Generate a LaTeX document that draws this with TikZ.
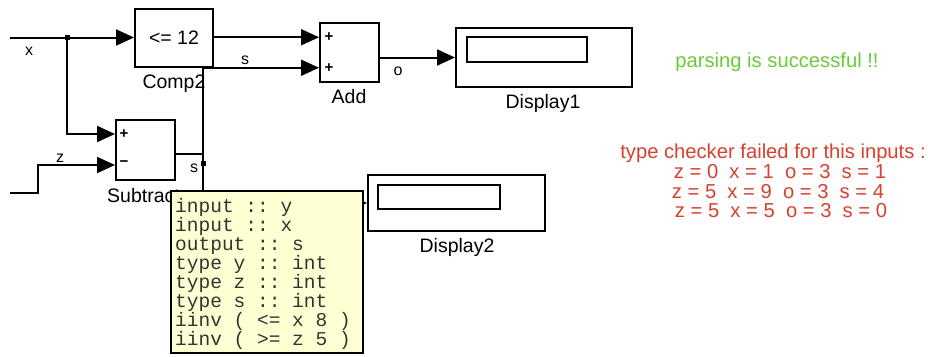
\documentclass[tikz,border=0pt]{standalone}
\usepackage{fontspec}
\setmainfont{Liberation Sans}
\setmonofont{Liberation Mono}
\usetikzlibrary{arrows.meta,calc}
\definecolor{okgreen}{HTML}{6BCB3B}
\definecolor{errred}{HTML}{D7412E}
\definecolor{tipfill}{HTML}{FFFFD4}
\definecolor{tiptext}{HTML}{333333}
\begin{document}
\begin{tikzpicture}[x=1pt,y=-1pt,
  blk/.style={draw, line width=2pt, inner sep=0pt, fill=white},
  lbl/.style={font=\fontsize{19.5}{20}\selectfont, inner sep=0pt, anchor=base},
  msg/.style={font=\fontsize{20.2}{20}\selectfont, inner sep=0pt, anchor=base},
  sig/.style={font=\fontsize{16}{16}\selectfont, inner sep=0pt, anchor=base},
  port/.style={font=\bfseries\fontsize{15}{15}\selectfont, inner sep=0pt},
  wire/.style={draw, line width=2pt},
  arr/.style={draw, line width=2pt, -{Triangle[length=18pt,width=16pt]}},
  jdot/.style={fill, rectangle, minimum size=5pt, inner sep=0pt}]
\fill[white] (0,0) rectangle (928,356);
\path[use as bounding box] (0,0) rectangle (928,356);

% blocks
\node[blk, minimum width=78pt, minimum height=58pt, font=\fontsize{19.5}{20}\selectfont] (comp) at (174,37.5) {<= 12};
\node[blk, minimum width=59pt, minimum height=60pt] (sub) at (145.5,149.5) {};
\node[blk, minimum width=59pt, minimum height=59pt] (add) at (349.5,52.5) {};
\node[blk, minimum width=176pt, minimum height=59pt] (d1) at (544,57.5) {};
\node[blk, minimum width=120pt, minimum height=25pt] (d1in) at (527,49.5) {};
\node[blk, minimum width=177pt, minimum height=56pt] (d2) at (456.5,203) {};
\node[blk, minimum width=122pt, minimum height=24pt] (d2in) at (439,197) {};

% ports
\coordinate (sub1) at ($(sub.north west)!.25!(sub.south west)$);
\coordinate (sub2) at ($(sub.north west)!.75!(sub.south west)$);
\coordinate (add1) at ($(add.north west)!.25!(add.south west)$);
\coordinate (add2) at ($(add.north west)!.75!(add.south west)$);
\node[port] (p1) at ($(sub1)+(9,0)$) {+};
\node[port] (p2) at ($(sub2)+(9,-1)$) {\textminus};
\node[port] (p3) at ($(add1)+(10,0)$) {+};
\node[port] (p4) at ($(add2)+(10,0)$) {+};

% wires
\coordinate (xin) at (10,37.5);
\coordinate (xb) at (67,37.5);
\coordinate (zin) at (10,193);
\coordinate (zk) at (38,193);
\coordinate (sb) at (203,163);
\coordinate (sj) at (203,154);
\coordinate (stop) at (add2 -| sb);
\draw[wire] (xin) -- (xb);
\draw[arr] (xb) -- (comp.west);
\draw[arr] (xb) |- (sub1);
\draw[arr] (zin) -- (zk) |- (sub2);
\draw[arr] (comp.east |- add1) -- (add1);
\draw[wire] (sub.east |- sj) -- (sj);
\draw[arr] (stop) -- (add2);
\draw[arr] (sb) |- (d2.west);
\draw[arr] (add.east |- d1.west) -- (d1.west);

% labels
\node[sig] (lx) at (29,55) {x};
\node[sig] (lz) at (60,162) {z};
\node[sig] (ls1) at (245,64) {s};
\node[sig] (ls2) at (194,172) {s};
\node[sig] (lo) at (398,75) {o};
\node[lbl] (lcomp) at (174,88) {Comp2};
\node[lbl] (lsub) at (143.5,202) {Subtract};
\node[lbl] (ladd) at (349,103) {Add};
\node[lbl] (ld1) at (543,108) {Display1};
\node[lbl] (ld2) at (457,252) {Display2};
\draw[wire] (stop) -- (sb);
\node[jdot] (xdot) at (xb) {};
\node[jdot] (sdot) at (sb) {};

% tooltip
\node[draw=black, line width=1.5pt, fill=tipfill, minimum width=192pt, minimum height=162pt, inner sep=0pt] (tip) at (267,272) {};
\node[anchor=base west, inner sep=0pt, align=left, text=tiptext, font=\ttfamily\fontsize{19.5}{19}\selectfont] (tiptxt) at (175,345) {input :: y\\input :: x\\output :: s\\type y :: int\\type z :: int\\type s :: int\\iinv ( <= x 8 )\\iinv ( >= z 5 )};

% messages
\node[msg, text=okgreen] (parse) at (777,67) {parsing is successful !!};
\node[msg, text=errred] (tc) at (773,158) {type checker failed for this inputs :};
\node[msg, text=errred] (r1) at (780,178) {z = 0\ \ x = 1\ \ o = 3\ \ s = 1};
\node[msg, text=errred] (r2) at (778,198) {z = 5\ \ x = 9\ \ o = 3\ \ s = 4};
\node[msg, text=errred] (r3) at (781,217) {z = 5\ \ x = 5\ \ o = 3\ \ s = 0};
\end{tikzpicture}
\end{document}
